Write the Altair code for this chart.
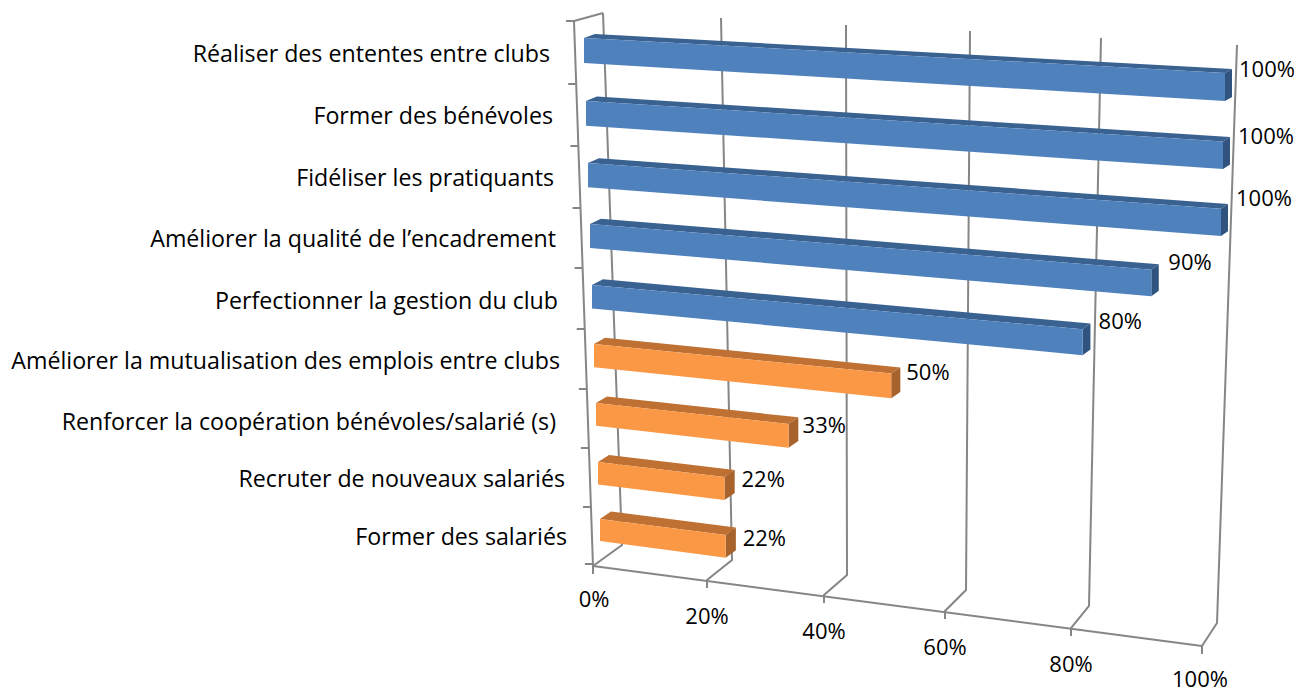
import altair as alt
import pandas as pd
import numpy as np

categories = ["Réaliser des ententes entre clubs", "Former des bénévoles", "Fidéliser les pratiquants",
              "Améliorer la qualité de l’encadrement", "Perfectionner la gestion du club",
              "Améliorer la mutualisation des emplois entre clubs",
              "Renforcer la coopération bénévoles/salarié (s)", "Recruter de nouveaux salariés", "Former des salariés"]
values = [100, 100, 100, 90, 80, 50, 33, 22, 22]
groups = ["b", "b", "b", "b", "b", "o", "o", "o", "o"]
axis_ticks = [0, 20, 40, 60, 80, 100]

# 3D scene layout (camera projection of the Excel-style chart)
FONT = "Open Sans"; FS = 23.2; FS_NUM = 22
FLOOR_FRONT = [(593, 566), (707, 580), (824, 595), (945, 611), (1071, 628), (1202, 646)]
FLOOR_BACK = [(622, 545), (732, 560), (847, 575), (966, 590), (1089, 606), (1217, 623)]
WALL_TOP = [(603, 13), (721, 18), (846, 25), (970, 31), (1101, 38), (1237, 45)]
ROW_TOPS = [38, 101, 163, 224, 285, 344, 403, 462, 519]
CAT_TICKS = [21, 84, 146, 208, 268, 329, 389, 448, 507, 564]
CAT_RIGHT = [550, 553, 554, 556, 558, 560, 556, 565, 567]
CAT_Y = [55, 117, 179, 240, 302, 362, 423, 480, 538]
VAL_NUDGE = [(14, -17), (15, -18), (15, -23), (17, -20), (16, -20), (15, -13), (14, -10), (17, -8), (17, -7)]
AXIS_DY = [34, 37, 37, 37, 37, 34]
COL = {"b": ("#4F81BD", "#3A6291", "#30547F"), "o": ("#FB9846", "#BE7132", "#A7632B")}
GRID = "#868686"

frac = np.array([(p[0] - 593) / 609 for p in FLOOR_FRONT])


def bar_t(v):
    return float(np.interp(v, axis_ticks, frac))


def front(r, t, top=True):
    x = (584 + 2 * r) + t * ((1225 - 2 * r) - (584 + 2 * r))
    slope = 35 + 43 * r / 8
    h = (25 - 3 * r / 8) + 3 * t
    y = ROW_TOPS[r] + slope * t
    return x, (y if top else y + h)


def depth(r, t):
    dx = 11 - 4 * t
    dy = -(4 + 3.5 * r / 8)
    return dx, dy


rows = []


def add(pid, pts, color):
    for i, (x, y) in enumerate(pts):
        rows.append({"x": x, "y": y, "pid": pid, "i": i, "c": color})


for r, (v, g) in enumerate(zip(values, groups)):
    t = bar_t(v)
    c_front, c_top, c_side = COL[g]
    a = front(r, 0); b = front(r, t); c = front(r, t, False); d = front(r, 0, False)
    dl = depth(r, 0); dr = depth(r, t)
    add(f"t{r}", [a, b, (b[0] + dr[0], b[1] + dr[1]), (a[0] + dl[0], a[1] + dl[1])], c_top)
    add(f"s{r}", [b, c, (c[0] + dr[0], c[1] + dr[1]), (b[0] + dr[0], b[1] + dr[1])], c_side)
    add(f"f{r}", [a, b, c, d], c_front)
polys = pd.DataFrame(rows)

lines = []


def addl(pid, pts):
    for i, (x, y) in enumerate(pts):
        lines.append({"x": x, "y": y, "pid": pid, "i": i})


for k in range(len(axis_ticks)):
    f, b, w = FLOOR_FRONT[k], FLOOR_BACK[k], WALL_TOP[k]
    addl(f"g{k}", [(f[0], f[1] + 8), f, b, w])
addl("floor", [FLOOR_FRONT[0], FLOOR_FRONT[-1]])
addl("wallfront", [FLOOR_FRONT[0], (574, 21), WALL_TOP[0]])
for j, yy in enumerate(CAT_TICKS):
    xx = 574 + (593 - 574) * (yy - 21) / (566 - 21)
    addl(f"c{j}", [(xx - 8, yy), (xx, yy)])
lines = pd.DataFrame(lines)

cat_df = pd.DataFrame({"label": categories, "x": CAT_RIGHT, "y": CAT_Y})
val_df = pd.DataFrame({
    "label": [f"{v}%" for v in values],
    "x": [front(r, bar_t(v))[0] + VAL_NUDGE[r][0] for r, v in enumerate(values)],
    "y": [(front(r, bar_t(v))[1] + front(r, bar_t(v), False)[1]) / 2 + VAL_NUDGE[r][1] for r, v in enumerate(values)],
})
ax_df = pd.DataFrame({
    "label": [f"{v}%" for v in axis_ticks],
    "x": [p[0] + (1 if k == 0 else -2 if k == 5 else 0) for k, p in enumerate(FLOOR_FRONT)],
    "y": [p[1] + AXIS_DY[k] for k, p in enumerate(FLOOR_FRONT)],
})

X = alt.X("x:Q", scale=alt.Scale(domain=[8, 1294], nice=False, zero=False), axis=None)
Y = alt.Y("y:Q", scale=alt.Scale(domain=[693, 8], nice=False, zero=False), axis=None)

grid_layer = alt.Chart(lines).mark_line(color=GRID, strokeWidth=2, clip=False).encode(
    x=X, y=Y, detail="pid:N", order="i:Q")
poly_layer = alt.Chart(polys).mark_line(strokeWidth=0, clip=False).encode(
    x=X, y=Y, detail="pid:N", order="i:Q", fill=alt.Fill("c:N", scale=None))


def text(df, align, size):
    return alt.Chart(df).mark_text(font=FONT, fontSize=size, align=align, baseline="middle", color="#000000").encode(
        x=X, y=Y, text="label:N")


chart = alt.layer(grid_layer, poly_layer, text(cat_df, "right", FS), text(val_df, "left", FS_NUM),
                  text(ax_df, "center", FS_NUM)).properties(
    width=1286, height=685, padding=0, autosize=alt.AutoSizeParams(type="none")).configure_view(stroke=None)

chart.save("out.html", embed_options={"renderer": "svg", "actions": False})
